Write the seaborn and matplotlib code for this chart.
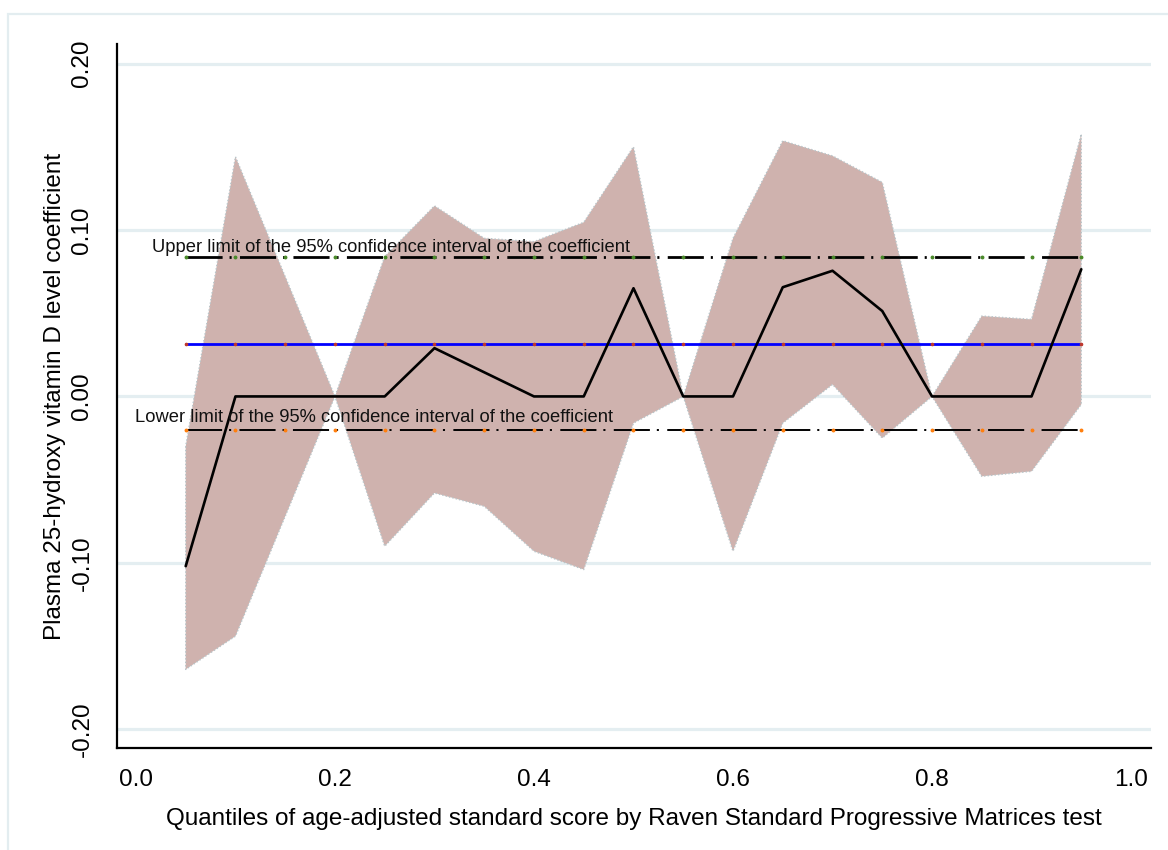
import numpy as np
import pandas as pd
import matplotlib
matplotlib.use("Agg")
import matplotlib.pyplot as plt
from matplotlib.patches import Rectangle
import seaborn as sns

# Quantile regression estimates
quantiles = [0.05, 0.10, 0.15, 0.20, 0.25, 0.30, 0.35, 0.40, 0.45, 0.50,
             0.55, 0.60, 0.65, 0.70, 0.75, 0.80, 0.85, 0.90, 0.95]
coef = [-0.102, 0.0, 0.0, 0.0, 0.0, 0.029, 0.0145, 0.0, 0.0, 0.065,
        0.0, 0.0, 0.0656, 0.0755, 0.0513, 0.0, 0.0, 0.0, 0.0764]
ci_upper = [-0.030, 0.144, 0.072, 0.0, 0.084, 0.1145, 0.095, 0.093, 0.1046, 0.150,
            0.0, 0.095, 0.1536, 0.1445, 0.1286, 0.0, 0.0483, 0.0463, 0.1576]
ci_lower = [-0.164, -0.144, -0.072, 0.0, -0.090, -0.058, -0.066, -0.093, -0.104, -0.016,
            0.0, -0.093, -0.016, 0.0072, -0.025, 0.0, -0.048, -0.045, -0.0048]

# OLS coefficient and its 95% CI
ols_coef = 0.0317
ols_upper = 0.0838
ols_lower = -0.0203

yticks = [-0.20, -0.10, 0.00, 0.10, 0.20]
xticks = [0.0, 0.2, 0.4, 0.6, 0.8, 1.0]

df = pd.DataFrame({"q": quantiles, "coef": coef, "lo": ci_lower, "hi": ci_upper})

sns.set_style("white")
plt.rcParams["font.family"] = ["Liberation Sans", "DejaVu Sans"]
plt.rcParams["lines.scale_dashes"] = False
plt.rcParams["text.color"] = "black"
plt.rcParams["axes.labelcolor"] = "black"

fig = plt.figure(figsize=(11.68, 8.5), dpi=100)
ax = fig.add_axes([0.1002, 0.12, 0.8852, 0.828])

# outer graph-region frame
fig.patches.append(Rectangle((0.0068, -0.02), 1.02, 1.0035, transform=fig.transFigure,
                             fill=False, edgecolor="#e3edf0", linewidth=1.6, zorder=0))

for t in yticks:
    ax.axhline(t, color="#e4eef1", linewidth=2.3, zorder=0)

# confidence band
ax.fill_between(df["q"], df["lo"], df["hi"], facecolor="#cfb2ae",
                edgecolor="#b9c5c9", linestyle=(0, (1, 1.5)), linewidth=1.0, zorder=1)

# OLS lines
n = len(quantiles)
ax.plot(quantiles, [ols_upper] * n, color="black", linewidth=2.0,
        linestyle=(0, (26, 5, 1.5, 6)), marker="o", markersize=1.8,
        markerfacecolor="#4a8a2a", markeredgecolor="#4a8a2a", zorder=3)
ax.plot(quantiles, [ols_lower] * n, color="black", linewidth=1.4,
        linestyle=(0, (26, 5, 1.5, 6)), marker="o", markersize=1.8,
        markerfacecolor="#ff7f0e", markeredgecolor="#ff7f0e", zorder=3)
ax.plot(quantiles, [ols_coef] * n, color="#0000ff", linewidth=2.0,
        marker="o", markersize=1.6, markerfacecolor="#c0392b",
        markeredgecolor="#c0392b", zorder=3)

sns.lineplot(data=df, x="q", y="coef", color="black", linewidth=1.9, ax=ax, zorder=4)

ax.text(0.016, 0.0897, "Upper limit of the 95% confidence interval of the coefficient",
        fontsize=13.2, color="#111111", va="center", ha="left", zorder=5)
ax.text(-0.001, -0.0124, "Lower limit of the 95% confidence interval of the coefficient",
        fontsize=13.2, color="#111111", va="center", ha="left", zorder=5)

ax.set_xlim(-0.019, 1.020)
ax.set_ylim(-0.2112, 0.2116)
ax.set_xticks(xticks)
ax.set_xticklabels([f"{v:.1f}" for v in xticks])
ax.set_yticks(yticks)
ax.set_yticklabels([f"{v:.2f}" for v in yticks], rotation=90, va="center")

ax.tick_params(axis="both", direction="out", length=9, width=1.6, colors="black",
               labelcolor="black", labelsize=17.5)
ax.tick_params(axis="y", pad=8)
ax.tick_params(axis="x", pad=6)

for side in ["top", "right"]:
    ax.spines[side].set_visible(False)
for side in ["left", "bottom"]:
    ax.spines[side].set_linewidth(1.6)
    ax.spines[side].set_color("black")

ax.set_xlabel("Quantiles of age-adjusted standard score by Raven Standard Progressive Matrices test",
              fontsize=17.5, labelpad=12)
ax.set_ylabel("Plasma 25-hydroxy vitamin D level coefficient", fontsize=17.5, labelpad=4)
ax.grid(False)

fig.savefig("out.png", dpi=100)
